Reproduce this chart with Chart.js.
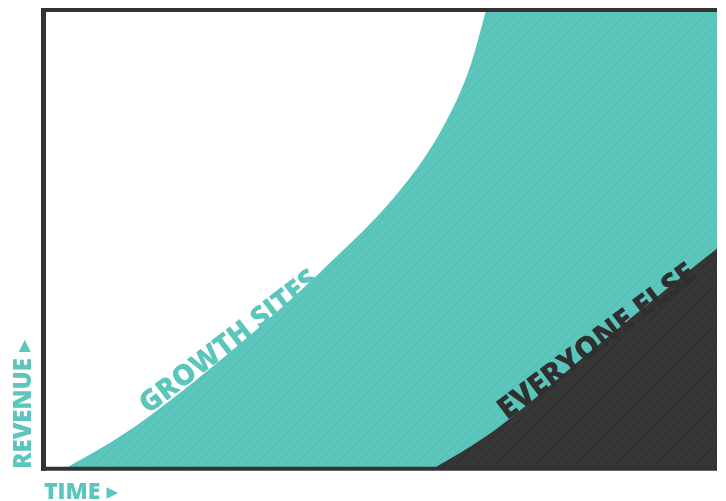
<!DOCTYPE html>
<html>
<head>
<meta charset="utf-8">
<script src="https://cdn.jsdelivr.net/npm/chart.js@4/dist/chart.umd.min.js"></script>
<style>
  html, body { margin: 0; padding: 0; background: #fff; }
  #wrap { width: 726px; height: 501px; }
</style>
</head>
<body>
<div id="wrap"><canvas id="chart"></canvas></div>
<script>
// time axis (0-100) and revenue (0-100)
// the growth curve leaves the top of the frame, so its last points sit above 100
var growthTime = [3.1, 10.3, 15.8, 28.4, 41.0, 53.3, 59.3, 63.3, 65.7, 68, 100];
var growthRevenue = [0, 6.1, 11.6, 26.4, 42.8, 61.4, 74.5, 87.6, 100, 112, 112];

var elseTime = [57.8, 63.3, 67.5, 82.6, 97.0, 100];
var elseRevenue = [0, 4.8, 9.0, 27.3, 44.5, 48.0];

var xTitle = 'TIME ▸';
var yTitle = 'REVENUE ▸';
var growthLabel = 'GROWTH SITES';
var elseLabel = 'EVERYONE ELSE';

var TEAL = '#5cc6bc';
var DARK = '#363636';
var FONT = '"Open Sans", Lato, "DejaVu Sans", sans-serif';

function toPoints(xs, ys) {
    return xs.map(function (x, i) { return { x: x, y: ys[i] }; });
}

// faint diagonal hatching like the original print
function hatch(base, line) {
    var c = document.createElement('canvas');
    c.width = 10;
    c.height = 10;
    var g = c.getContext('2d');
    g.fillStyle = base;
    g.fillRect(0, 0, 10, 10);
    g.strokeStyle = line;
    g.lineWidth = 1;
    g.beginPath();
    g.moveTo(-1, 11);
    g.lineTo(11, -1);
    g.stroke();
    return g.createPattern(c, 'repeat');
}

// frame + labels running along the curves
var decor = {
    id: 'decor',
    afterDatasetsDraw: function (chart) {
        var ctx = chart.ctx;
        var a = chart.chartArea;
        var xs = chart.scales.x, ys = chart.scales.y;

        ctx.save();
        ctx.strokeStyle = '#333';
        ctx.lineWidth = 5;
        ctx.beginPath();
        ctx.moveTo(a.left - 0.5, a.top - 2);
        ctx.lineTo(a.left - 0.5, a.bottom + 2);
        ctx.stroke();
        ctx.lineWidth = 4;
        ctx.beginPath();
        ctx.moveTo(a.left - 3, a.top);
        ctx.lineTo(a.right, a.top);
        ctx.moveTo(a.left - 3, a.bottom);
        ctx.lineTo(a.right, a.bottom);
        ctx.stroke();
        ctx.restore();

        // text from (x0,y0) to (x1,y1) in data units, sized to fit
        function along(text, x0, y0, x1, y1, color) {
            var px0 = xs.getPixelForValue(x0), py0 = ys.getPixelForValue(y0);
            var px1 = xs.getPixelForValue(x1), py1 = ys.getPixelForValue(y1);
            var len = Math.hypot(px1 - px0, py1 - py0);
            ctx.save();
            ctx.font = '800 20px ' + FONT;
            var size = 20 * len / ctx.measureText(text).width;
            ctx.font = '800 ' + size.toFixed(1) + 'px ' + FONT;
            ctx.translate(px0, py0);
            ctx.rotate(Math.atan2(py1 - py0, px1 - px0));
            ctx.fillStyle = color;
            ctx.textAlign = 'left';
            ctx.textBaseline = 'alphabetic';
            ctx.fillText(text, 0, 0);
            ctx.restore();
        }
        along(growthLabel, 15.5, 11.8, 41.0, 40.4, TEAL);
        along(elseLabel, 68.8, 10.5, 97.2, 41.7, '#2f2f2f');
    }
};

new Chart(document.getElementById('chart'), {
    type: 'line',
    data: {
        datasets: [{
            label: 'Everyone else',
            data: toPoints(elseTime, elseRevenue),
            fill: 'origin',
            backgroundColor: hatch(DARK, '#2c2c2c'),
            borderWidth: 0,
            pointRadius: 0,
            cubicInterpolationMode: 'monotone',
            order: 0
        }, {
            label: 'Growth sites',
            data: toPoints(growthTime, growthRevenue),
            fill: 'origin',
            backgroundColor: hatch(TEAL, '#53bbb1'),
            borderWidth: 0,
            pointRadius: 0,
            cubicInterpolationMode: 'monotone',
            order: 1
        }]
    },
    options: {
        responsive: true,
        maintainAspectRatio: false,
        animation: false,
        layout: { padding: { left: 0, right: 9, top: 10, bottom: 0 } },
        plugins: {
            legend: { display: false },
            tooltip: { enabled: false }
        },
        scales: {
            x: {
                type: 'linear',
                min: 0,
                max: 100,
                ticks: { display: false },
                grid: { display: false, drawTicks: false },
                border: { display: false },
                title: {
                    display: true,
                    text: xTitle,
                    align: 'start',
                    color: TEAL,
                    font: { family: FONT, size: 23, weight: '800', lineHeight: 0.75 },
                    padding: { top: 15, bottom: 0 }
                }
            },
            y: {
                min: 0,
                max: 100,
                ticks: { display: false },
                grid: { display: false, drawTicks: false },
                border: { display: false },
                title: {
                    display: true,
                    text: yTitle,
                    align: 'start',
                    color: TEAL,
                    font: { family: FONT, size: 24, weight: '800', lineHeight: 0.75 },
                    padding: { top: 15, bottom: 11 }
                }
            }
        }
    },
    plugins: [decor]
});
</script>
</body>
</html>
